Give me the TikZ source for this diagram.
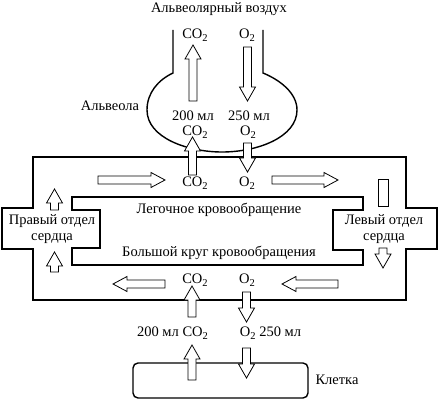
\documentclass[tikz,border=0pt]{standalone}
\usepackage{fontspec}
\setmainfont{Liberation Serif}
\newcommand{\subtwo}{\raisebox{-0.4ex}{\fontsize{10.5}{10.5}\selectfont 2}}
\begin{document}
\begin{tikzpicture}[x=1pt,y=-1pt,
  lbl/.style={inner sep=0pt, font=\fontsize{14.5}{16}\selectfont},
  wall/.style={line width=1.6pt, line join=miter},
  blk/.style={draw, fill=white, line width=0.8pt, line join=miter}]
\useasboundingbox (0,0) rectangle (441,403);
% vertical block arrow: x, tail y, tip y
\newcommand{\varr}[3]{%
  \pgfmathsetmacro{\hb}{#3+14*((#2>#3)-(#2<#3))}%
  \draw[blk] (#1-4,#2) -- (#1-4,\hb) -- (#1-8,\hb) -- (#1,#3) -- (#1+8,\hb) -- (#1+4,\hb) -- (#1+4,#2) -- cycle;}
% horizontal block arrow: y, tail x, tip x
\newcommand{\harr}[3]{%
  \pgfmathsetmacro{\hb}{#3+14*((#2>#3)-(#2<#3))}%
  \draw[blk] (#2,#1-4) -- (\hb,#1-4) -- (\hb,#1-7.5) -- (#3,#1) -- (\hb,#1+7.5) -- (\hb,#1+4) -- (#2,#1+4) -- cycle;}
% alveola
\draw[line width=1.4pt] (173,30) -- (173,73)
  .. controls (158,80) and (147,93) .. (147,110)
  .. controls (147,138) and (188,152) .. (222,152)
  .. controls (258,152) and (297,137) .. (297,110)
  .. controls (297,93) and (280,80) .. (263,73) -- (263,30);
% vessels
\draw[wall] (33,157) -- (406,157) -- (406,208) -- (437,208) -- (437,249) -- (406,249)
  -- (406,300) -- (33,300) -- (33,249) -- (2,249) -- (2,208) -- (33,208) -- cycle;
\draw[wall] (72,197) -- (363,197) -- (363,210) -- (333,210) -- (333,250) -- (363,250)
  -- (363,265) -- (72,265) -- (72,248) -- (100,248) -- (100,210) -- (72,210) -- cycle;
% cell
\draw[line width=1.4pt, rounded corners=5pt] (133,363) rectangle (308,398);
% arrows
\varr{193}{101}{45}
\varr{247.5}{47}{101}
\varr{192.5}{175}{137}
\varr{247.5}{143}{172}
\varr{192}{317}{286}
\varr{246.5}{292}{322}
\varr{192}{380}{345}
\varr{246.5}{348}{378}
\varr{54.5}{210}{189}
\varr{54.5}{272}{252}
\varr{383}{248}{268}
\harr{180}{98}{165}
\harr{180}{272}{338}
\harr{284}{165}{113}
\harr{284}{338}{282}
\draw[blk] (378,179) rectangle (388,206);
% texts
\node[lbl] (air) at (219,9) {Альвеолярный воздух};
\node[lbl] (co2a) at (195,35) {CO\subtwo};
\node[lbl] (o2a) at (247,35) {O\subtwo};
\node[lbl] (alv) at (110,106) {Альвеола};
\node[lbl] (v200a) at (193,116) {200 мл};
\node[lbl] (v250a) at (249,116) {250 мл};
\node[lbl] (co2b) at (195,132) {CO\subtwo};
\node[lbl] (o2b) at (248,132) {O\subtwo};
\node[lbl] (co2c) at (195,183) {CO\subtwo};
\node[lbl] (o2c) at (247,183) {O\subtwo};
\node[lbl] (pulm) at (219,210) {Легочное кровообращение};
\node[lbl] (syst) at (219,253) {Большой круг кровообращения};
\node[lbl, align=center] (rh) at (52,229) {Правый отдел\\сердца};
\node[lbl, align=center] (lh) at (384,229) {Левый отдел\\сердца};
\node[lbl] (co2d) at (195,280) {CO\subtwo};
\node[lbl] (o2d) at (247,280) {O\subtwo};
\node[lbl] (v200b) at (172.5,333) {200 мл CO\subtwo};
\node[lbl] (v250b) at (270.5,333) {O\subtwo{} 250 мл};
\node[lbl] (cell) at (337,380) {Клетка};
\end{tikzpicture}
\end{document}
